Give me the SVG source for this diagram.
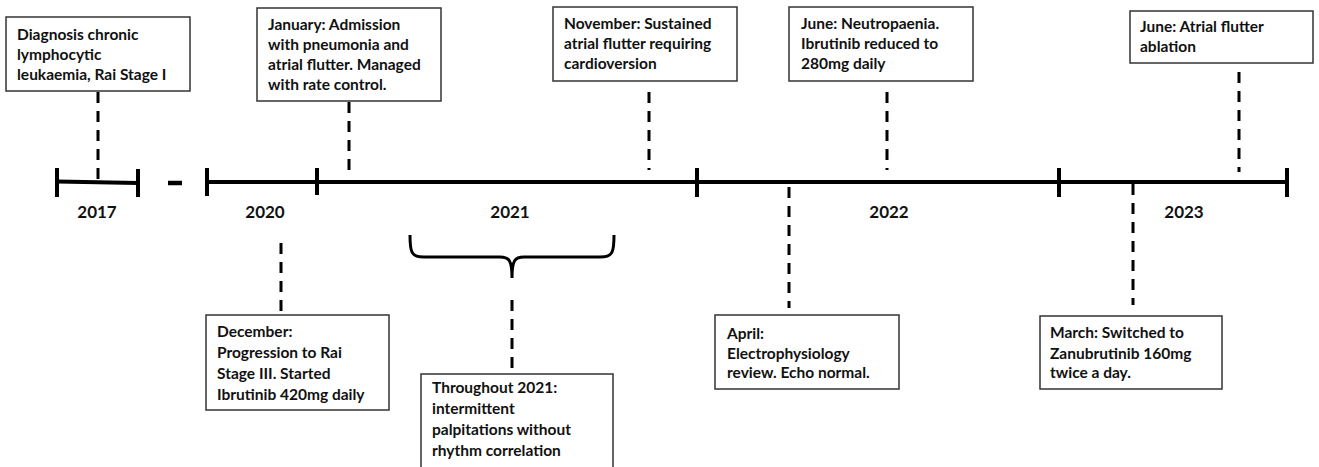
<svg xmlns="http://www.w3.org/2000/svg" width="1319" height="467" viewBox="0 0 1319 467">
<style>
.box{fill:#fff;stroke:#333;stroke-width:1.5}
.t{font-family:Lato,"Liberation Sans",sans-serif;font-weight:bold;font-size:15.5px;fill:#111}
.yr{font-family:Lato,"Liberation Sans",sans-serif;font-weight:bold;font-size:17px;fill:#111;text-anchor:middle}
.axis{stroke:#000;stroke-width:4;fill:none}
.tick{stroke:#000;stroke-width:4}
.dash{stroke:#000;stroke-width:3;stroke-dasharray:11 8;fill:none}
.brace{stroke:#000;stroke-width:3;fill:none;stroke-linejoin:round}
</style>
<rect width="1319" height="467" fill="#fff"/>
<g id="timeline">
<line class="axis" x1="57" y1="181.5" x2="138" y2="183"/>
<line class="axis" x1="207" y1="182" x2="1287" y2="182"/>
<line class="tick" x1="57" y1="168" x2="57" y2="197"/>
<line class="tick" x1="138" y1="169" x2="138" y2="197"/>
<line class="tick" x1="207" y1="168" x2="207" y2="196"/>
<line class="tick" x1="317" y1="168" x2="317" y2="195"/>
<line class="tick" x1="697" y1="168" x2="697" y2="197"/>
<line class="tick" x1="1059" y1="168" x2="1059" y2="197"/>
<line class="tick" x1="1287" y1="168" x2="1287" y2="197"/>
<line stroke="#000" stroke-width="4.5" x1="168" y1="183" x2="182" y2="183"/>
<text class="yr" x="97" y="218">2017</text>
<text class="yr" x="265" y="218">2020</text>
<text class="yr" x="510" y="218">2021</text>
<text class="yr" x="889" y="218">2022</text>
<text class="yr" x="1184" y="218">2023</text>
</g>
<g id="connectors">
<line class="dash" x1="98" y1="92" x2="98" y2="182"/>
<line class="dash" x1="349" y1="102" x2="349" y2="176"/>
<line class="dash" x1="649" y1="92" x2="649" y2="170"/>
<line class="dash" x1="887" y1="92" x2="887" y2="170"/>
<line class="dash" x1="1239" y1="72" x2="1239" y2="172"/>
<line class="dash" x1="281" y1="243" x2="281" y2="315"/>
<line class="dash" x1="512" y1="300" x2="512" y2="374"/>
<line class="dash" x1="789" y1="187" x2="789" y2="308"/>
<line class="dash" x1="1133" y1="184" x2="1133" y2="305"/>
<path class="brace" d="M410,235 C410,252 411,257 424,257 L500,257 C509,257 512,260 512,278 M614,235 C614,252 613,257 600,257 L524,257 C515,257 512,260 512,278"/>
</g>
<g id="n2017">
<rect class="box" x="6" y="17" width="184" height="74"/>
<text class="t" x="17" y="39.5">Diagnosis chronic</text>
<text class="t" x="17" y="59.5">lymphocytic</text>
<text class="t" x="17" y="79.5">leukaemia, Rai Stage I</text>
</g>
<g id="nJan">
<rect class="box" x="257" y="8" width="184" height="93"/>
<text class="t" x="268" y="29.5">January: Admission</text>
<text class="t" x="268" y="49.5">with pneumonia and</text>
<text class="t" x="268" y="69.5">atrial flutter. Managed</text>
<text class="t" x="268" y="89.5">with rate control.</text>
</g>
<g id="nNov">
<rect class="box" x="553" y="7" width="184" height="74"/>
<text class="t" x="564" y="29">November: Sustained</text>
<text class="t" x="564" y="49">atrial flutter requiring</text>
<text class="t" x="564" y="69">cardioversion</text>
</g>
<g id="nJun22">
<rect class="box" x="789" y="7" width="184" height="74"/>
<text class="t" x="801" y="29">June: Neutropaenia.</text>
<text class="t" x="801" y="49">Ibrutinib reduced to</text>
<text class="t" x="801" y="69">280mg daily</text>
</g>
<g id="nJun23">
<rect class="box" x="1130" y="11" width="183" height="52"/>
<text class="t" x="1140" y="32">June: Atrial flutter</text>
<text class="t" x="1140" y="52">ablation</text>
</g>
<g id="nDec">
<rect class="box" x="206" y="315" width="183" height="95"/>
<text class="t" x="217" y="337">December:</text>
<text class="t" x="217" y="358">Progression to Rai</text>
<text class="t" x="217" y="379">Stage III. Started</text>
<text class="t" x="217" y="400">Ibrutinib 420mg daily</text>
</g>
<g id="n2021">
<rect class="box" x="421" y="374" width="192" height="96"/>
<text class="t" x="432" y="393">Throughout 2021:</text>
<text class="t" x="432" y="414">intermittent</text>
<text class="t" x="432" y="435">palpitations without</text>
<text class="t" x="432" y="456">rhythm correlation</text>
</g>
<g id="nApr">
<rect class="box" x="715" y="315" width="184" height="74"/>
<text class="t" x="727" y="339">April:</text>
<text class="t" x="727" y="359">Electrophysiology</text>
<text class="t" x="727" y="378">review. Echo normal.</text>
</g>
<g id="nMar">
<rect class="box" x="1040" y="316" width="182" height="73"/>
<text class="t" x="1050" y="338">March: Switched to</text>
<text class="t" x="1050" y="359">Zanubrutinib 160mg</text>
<text class="t" x="1050" y="378">twice a day.</text>
</g>
</svg>
